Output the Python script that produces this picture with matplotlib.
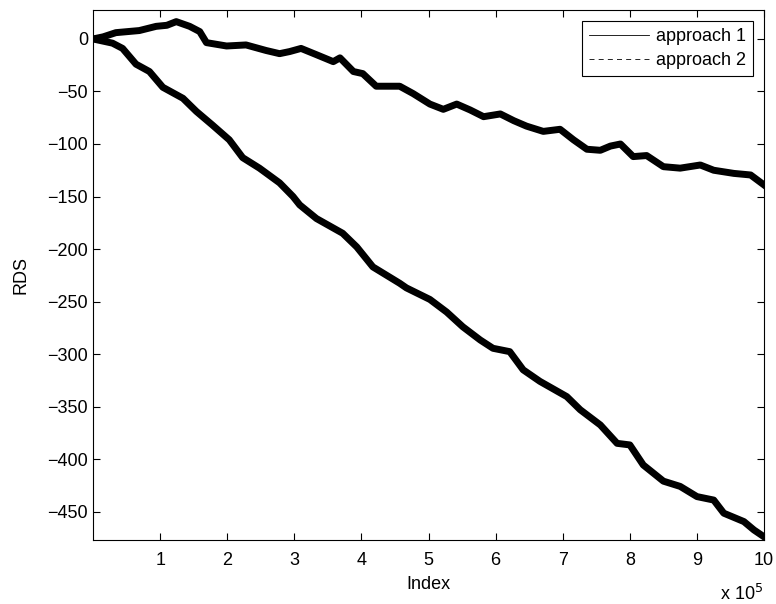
import matplotlib.pyplot as plt
from matplotlib.lines import Line2D
import numpy as np

plt.rcParams.update({
    "font.family": ["Liberation Sans", "DejaVu Sans"],
    "font.size": 13,
    "xtick.direction": "in",
    "ytick.direction": "in",
    "xtick.top": True,
    "ytick.right": True,
    "xtick.major.size": 4.8,
    "ytick.major.size": 4.8,
    "xtick.major.pad": 9,
    "axes.linewidth": 0.8,
})

# index in units of 1e5
idx_1 = [0, 0.15, 0.34, 0.69, 0.94, 1.1, 1.24, 1.44, 1.59, 1.69, 1.99, 2.28,
         2.58, 2.78, 2.93, 3.10, 3.33, 3.58, 3.68, 3.88, 4.02, 4.22, 4.57, 4.77,
         5.02, 5.22, 5.42, 5.62, 5.82, 6.07, 6.27, 6.46, 6.71, 6.96, 7.16, 7.36,
         7.56, 7.71, 7.86, 8.05, 8.25, 8.5, 8.75, 9.05, 9.25, 9.55, 9.8, 10]
rds_1 = [0, 2, 6, 8, 12, 13, 16.5, 12, 7, -3.5, -6.7, -5.7,
         -11, -14, -12, -9, -15, -21.6, -18, -31, -33, -45, -45, -52,
         -62, -67, -62, -67.6, -74, -71.4, -77.8, -83, -88, -86, -96, -105,
         -106, -102, -100, -112, -111, -121.6, -123, -120, -125, -128, -129.5, -139]

idx_2 = [0, 0.29, 0.44, 0.64, 0.84, 1.04, 1.34, 1.54, 1.78, 2.03, 2.23, 2.48,
         2.78, 2.98, 3.08, 3.33, 3.72, 3.93, 4.17, 4.57, 4.67, 5.02, 5.27, 5.51,
         5.77, 5.96, 6.21, 6.41, 6.66, 7.06, 7.26, 7.56, 7.81, 8.0, 8.2, 8.5,
         8.75, 9.0, 9.25, 9.4, 9.7, 9.85, 10]
rds_2 = [0, -4, -9, -24, -31, -46, -56.5, -69, -82, -96, -113, -123,
         -137, -150, -158, -171, -185, -198, -217, -232.6, -237, -248, -260, -274,
         -286.6, -294.5, -297.7, -315, -326, -340.5, -353, -367.5, -385, -386.5, -405.6, -421,
         -426, -435.7, -439, -451.5, -459.5, -467.5, -474]

labels = ["approach 1", "approach 2"]

fig = plt.figure(figsize=(7.76, 6.04), dpi=100)
ax = fig.add_axes([0.1199, 0.106, 0.8647, 0.8775])

ax.plot(idx_1, rds_1, color="black", linewidth=5, solid_joinstyle="round")
ax.plot(idx_2, rds_2, color="black", linewidth=5, solid_joinstyle="round")

ax.set_xlim(0, 10)
ax.set_ylim(-477, 27.6)
ax.set_xticks(np.arange(1, 11))
ax.set_yticks(np.arange(-450, 1, 50))
ax.set_yticklabels([str(v).replace("-", "\u2212") for v in range(-450, 1, 50)])
ax.set_xlabel("Index", labelpad=5)
ax.set_ylabel("RDS", labelpad=13)
fig.text(0.983, 0.006, "x 10$^5$", fontsize=13, ha="right", va="baseline")

handles = [Line2D([], [], color="black", lw=0.6, ls="-"),
           Line2D([], [], color="black", lw=0.6, ls=(0, (6, 5)))]
leg = ax.legend(handles, labels, loc="upper right", handlelength=3.3,
                fancybox=False, framealpha=1, edgecolor="black",
                borderaxespad=0.6, borderpad=0.4, labelspacing=0.4,
                handletextpad=0.4)
leg.get_frame().set_linewidth(0.8)

fig.savefig("out.png", dpi=100)
